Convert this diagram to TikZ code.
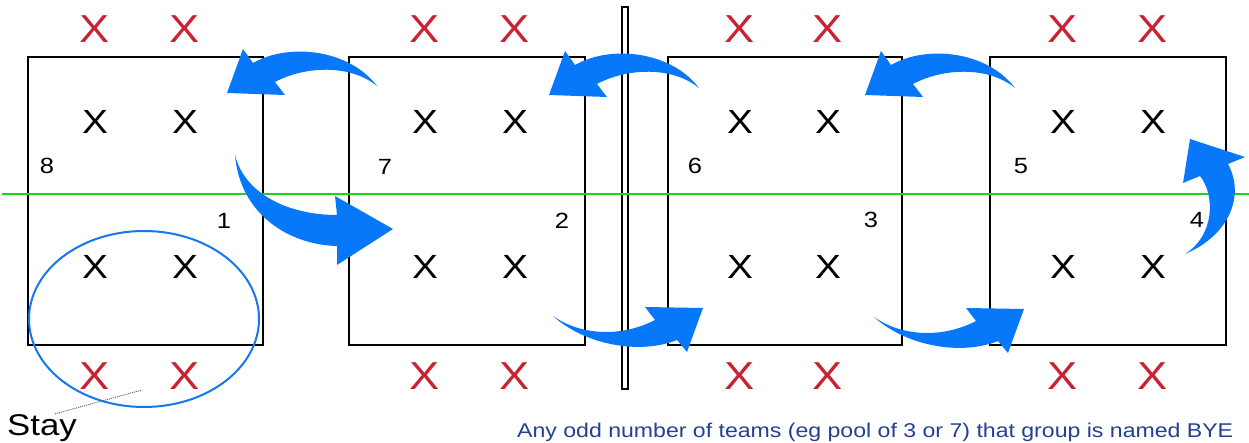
\documentclass[tikz,border=0pt]{standalone}
\usepackage{fontspec}
\setmainfont{Liberation Sans}[FakeStretch=1.16]
\usetikzlibrary{shapes.geometric}
\definecolor{arrowblue}{RGB}{8,120,250}
\definecolor{ringblue}{RGB}{20,120,240}
\definecolor{xred}{RGB}{200,35,50}
\definecolor{netgreen}{RGB}{30,210,30}
\definecolor{textblue}{RGB}{35,65,145}
\tikzset{
  court/.style={draw=black, line width=2.3pt, minimum height=288pt, inner sep=0pt, outer sep=0pt},
  netpost/.style={draw=black, line width=2.5pt, minimum width=6pt, minimum height=382pt, inner sep=0pt},
  centerline/.style={draw=netgreen, line width=2.5pt},
  redx/.style={text=xred, inner sep=0pt, font=\fontsize{39}{39}\selectfont},
  blackx/.style={text=black, inner sep=0pt, font=\fontsize{33.5}{33.5}\selectfont},
  numlabel/.style={text=black, inner sep=0pt, font=\fontsize{22}{22}\selectfont},
  arrowfill/.style={fill=arrowblue},
  stayring/.style={draw=ringblue, line width=2pt, ellipse, inner sep=0pt, minimum width=230pt, minimum height=176pt},
  staylabel/.style={inner sep=0pt, anchor=base west, font=\fontsize{30}{30}\selectfont},
  leader/.style={draw=black!60, line width=1pt, densely dotted},
  note/.style={text=textblue, inner sep=0pt, anchor=base west, font=\fontsize{19.9}{19.9}\selectfont}
}
\begin{document}
\begin{tikzpicture}[x=1pt, y=-1pt]
\useasboundingbox (0,0) rectangle (1249,443);
% courts
\node[court, minimum width=235pt] (court1) at (145.5,201) {};
\node[court, minimum width=236pt] (court2) at (467,201) {};
\node[court, minimum width=234pt] (court3) at (785,201) {};
\node[court, minimum width=236pt] (court4) at (1108,201) {};
% net
\node[netpost] (net) at (625,198) {};
% center line
\coordinate (gl) at (2,194);
\coordinate (gr) at (1249,194);
\draw[centerline] (gl) -- (gr);
% players
\foreach \n/\a/\b in {1/95/185, 2/425/515, 3/740/828, 4/1063/1153} {
  \node[redx] (rta\n) at (\a,29) {X};
  \node[redx] (rtb\n) at (\b,29) {X};
  \node[blackx] (bta\n) at (\a,122) {X};
  \node[blackx] (btb\n) at (\b,122) {X};
  \node[blackx] (bba\n) at (\a,267) {X};
  \node[blackx] (bbb\n) at (\b,267) {X};
  \node[redx] (rba\n) at (\a,376) {X};
  \node[redx] (rbb\n) at (\b,376) {X};
}
% numbers
\node[numlabel] (n8) at (47,166) {8};
\node[numlabel] (n1) at (224,221) {1};
\node[numlabel] (n7) at (385,167) {7};
\node[numlabel] (n2) at (562,221) {2};
\node[numlabel] (n6) at (695,166) {6};
\node[numlabel] (n3) at (871,220) {3};
\node[numlabel] (n5) at (1021,166) {5};
\node[numlabel] (n4) at (1197,220) {4};
% top arrows (pointing left)
\foreach \dx/\dy in {0/0, 322/2, 638/2} {
  \fill[arrowfill, shift={(\dx,\dy)}] (377,86) .. controls (350,50) and (290,42) .. (253,63)
     -- (243,49) -- (227,93) -- (285,95) -- (275,82)
     .. controls (305,66) and (350,64) .. (377,86) -- cycle;
}
% bottom arrows (pointing right)
\foreach \dx/\dy in {0/0, 321/1} {
  \fill[arrowfill, shift={(\dx,\dy)}] (553,316) .. controls (585,345) and (640,355) .. (677,340)
     -- (687,352) -- (703,308) -- (645,307) -- (655,320)
     .. controls (620,338) and (580,335) .. (553,316) -- cycle;
}
% arrow from 1 to 2
\fill[arrowfill] (235,155) .. controls (240,215) and (290,245) .. (337,246)
   -- (337,265) -- (393,229) -- (335,196) -- (337,215)
   .. controls (290,215) and (245,195) .. (235,155) -- cycle;
% arrow at court 4
\fill[arrowfill] (1185,254) .. controls (1230,235) and (1245,195) .. (1228,164)
   -- (1245,157) -- (1190,139) -- (1183,183) -- (1200,176)
   .. controls (1215,195) and (1215,235) .. (1185,254) -- cycle;
% stay ring
\node[stayring] (ring) at (144,319) {};
\node[staylabel] (stay) at (7,435) {Stay};
\coordinate (leadend) at (142,390);
\draw[leader] ([xshift=13pt]stay.north) -- (leadend);
% note
\node[note] (note) at (517,437) {Any odd number of teams (eg pool of 3 or 7) that group is named BYE};
\end{tikzpicture}
\end{document}
